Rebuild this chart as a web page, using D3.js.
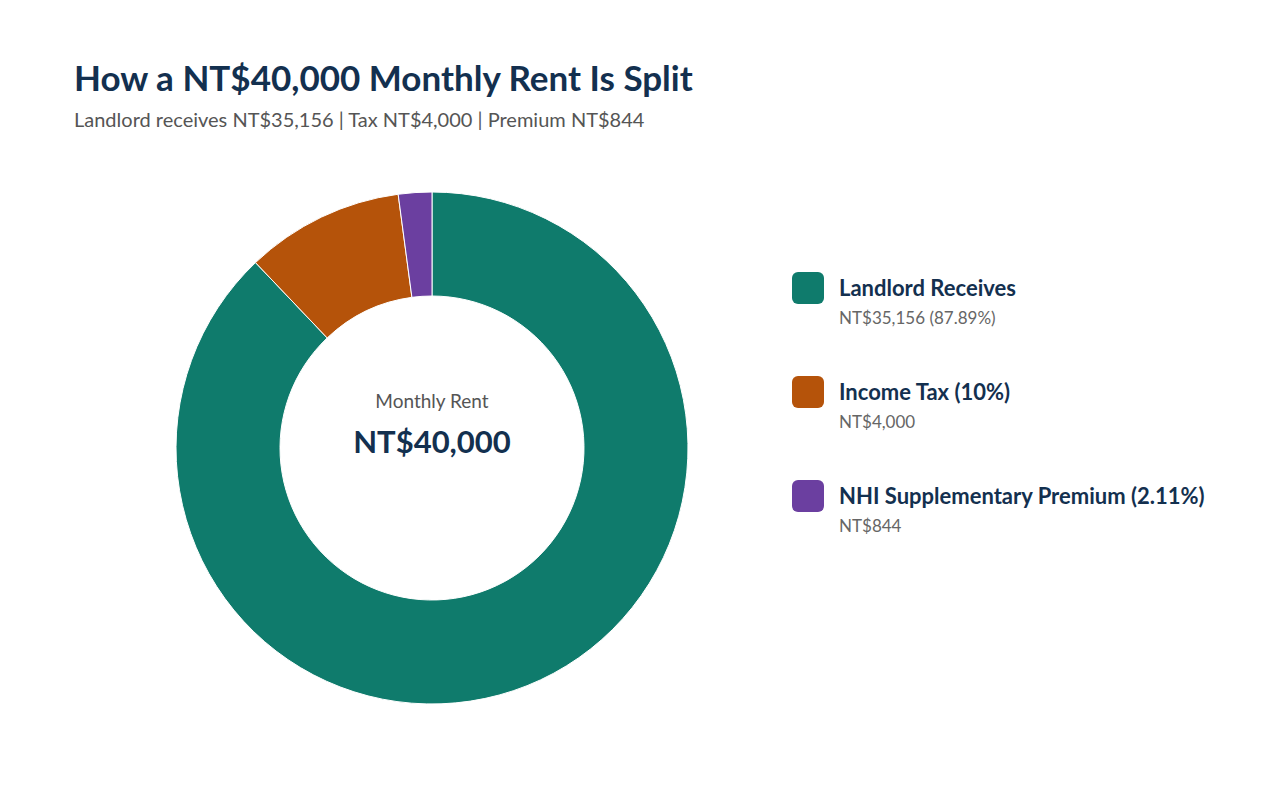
<!DOCTYPE html>
<html><head><meta charset="utf-8">
<script src="https://cdn.jsdelivr.net/npm/d3@7"></script>
<style>body{margin:0;background:#fff}svg{font-family:"Source Sans Pro","Lato","Noto Sans",sans-serif}</style>
</head><body>
<svg id="chart" width="1280" height="800"></svg>
<script>
const labels = ["Landlord Receives", "Income Tax (10%)", "NHI Supplementary Premium (2.11%)"];
const values = [35156, 4000, 844];
const subs = ["NT$35,156 (87.89%)", "NT$4,000", "NT$844"];
const colors = ["#0f7b6c", "#b5530a", "#6b3fa0"];

const svg = d3.select("#chart");
const navy = "#13304f";

svg.append("text").attr("x", 74).attr("y", 91).attr("font-size", 35).attr("font-weight", 700)
  .attr("fill", navy).text("How a NT$40,000 Monthly Rent Is Split");
svg.append("text").attr("x", 74).attr("y", 127).attr("font-size", 20).attr("fill", "#555")
  .text("Landlord receives NT$35,156 | Tax NT$4,000 | Premium NT$844");

const cx = 432, cy = 448;
const pie = d3.pie().sort(null)(values);
const arc = d3.arc().innerRadius(152).outerRadius(256);
const g = svg.append("g").attr("transform", `translate(${cx},${cy})`);
g.selectAll("path").data(pie).join("path")
  .attr("d", arc).attr("fill", (d, i) => colors[i])
  .attr("stroke", "#fff").attr("stroke-width", 1);

g.append("text").attr("text-anchor", "middle").attr("y", -40).attr("font-size", 19)
  .attr("fill", "#555").text("Monthly Rent");
g.append("text").attr("text-anchor", "middle").attr("y", 5).attr("font-size", 31)
  .attr("font-weight", 700).attr("fill", navy).text("NT$" + d3.format(",")(d3.sum(values)));

const lg = svg.append("g").attr("transform", "translate(792,272)");
const item = lg.selectAll("g").data(labels).join("g")
  .attr("transform", (d, i) => `translate(0,${i * 104})`);
item.append("rect").attr("width", 32).attr("height", 32).attr("rx", 6)
  .attr("fill", (d, i) => colors[i]);
item.append("text").attr("x", 47).attr("y", 24).attr("font-size", 22).attr("font-weight", 700)
  .attr("fill", navy).text(d => d);
item.append("text").attr("x", 47).attr("y", 52).attr("font-size", 17).attr("fill", "#666")
  .text((d, i) => subs[i]);
</script>
</body></html>
